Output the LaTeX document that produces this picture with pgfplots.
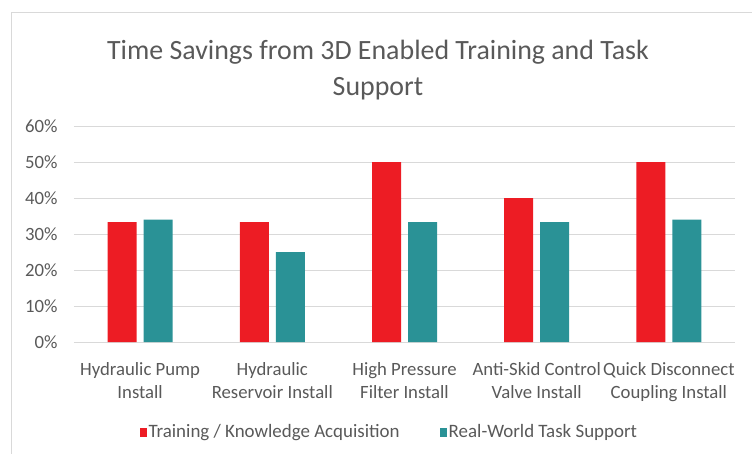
\documentclass[border=0pt]{standalone}
\usepackage{fontspec}
\setmainfont{Carlito}
\usepackage{pgfplots}
\pgfplotsset{compat=1.18}
\definecolor{barred}{RGB}{237,28,36}
\definecolor{barteal}{RGB}{42,146,150}
\definecolor{txtgrey}{RGB}{89,89,89}
\definecolor{gridgrey}{RGB}{217,217,217}
\begin{document}
\begin{tikzpicture}
\begin{axis}[
  at={(0bp,0bp)}, anchor=south west,
  scale only axis, width=661bp, height=216bp,
  ybar=7bp, bar width=29bp,
  xmin=-0.5, xmax=4.5, ymin=0, ymax=60,
  xtick={0,1,2,3,4},
  xticklabels={{Hydraulic Pump\\Install},{Hydraulic\\Reservoir Install},{High Pressure\\Filter Install},{Anti-Skid Control\\Valve Install},{Quick Disconnect\\Coupling Install}},
  ytick={0,10,20,30,40,50,60},
  yticklabel={\pgfmathprintnumber{\tick}\%},
  /pgf/number format/assume math mode=true,
  major tick length=0pt,
  axis line style={draw=none},
  ymajorgrids, grid style={gridgrey, line width=1bp},
  tick label style={text=txtgrey, font=\fontsize{18.8}{23}\selectfont},
  xticklabel style={align=center, anchor=north, yshift=-17bp},
  yticklabel style={anchor=east, xshift=-13bp},
  legend columns=2,
  legend style={at={(0.477,-0.417)}, anchor=center, draw=none, fill=none,
    font=\fontsize{19}{21}\selectfont, text=txtgrey,
    /tikz/every even column/.append style={column sep=38bp}},
  legend image code/.code={\fill[#1, draw=none] (0bp,-4.5bp) rectangle (7bp,4.5bp);},
  clip=false,
]
\addplot[fill=barred, draw=none] coordinates {(0,33.3) (1,33.3) (2,50) (3,40) (4,50)};
\addplot[fill=barteal, draw=none] coordinates {(0,34) (1,25) (2,33.3) (3,33.3) (4,34)};
\legend{Training / Knowledge Acquisition, Real-World Task Support}
\end{axis}
\draw[gridgrey, line width=1bp] (-62bp,-112bp) -- (-62bp,329bp) -- (678bp,329bp);
\node[text=txtgrey, align=center, font=\fontsize{28}{37}\selectfont] at (304bp,272bp) {Time Savings from 3D Enabled Training and Task\\Support};
\pgfresetboundingbox
\useasboundingbox (-74bp,-112bp) rectangle (678bp,342bp);
\end{tikzpicture}
\end{document}
